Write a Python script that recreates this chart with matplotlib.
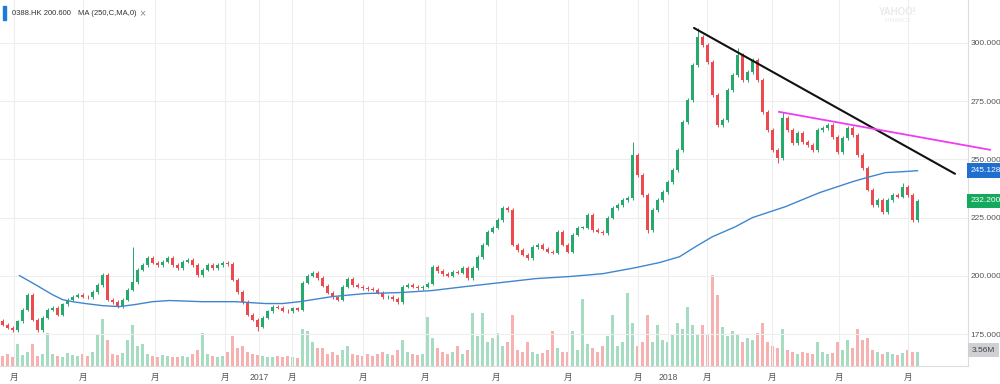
import matplotlib
matplotlib.use('Agg')
import matplotlib.pyplot as plt
import matplotlib.patches as patches
import matplotlib.transforms as mtransforms
import numpy as np

plt.rcParams['font.family'] = ['Liberation Sans', 'Noto Sans CJK SC', 'DejaVu Sans']

# Close prices, one candle per ~3 trading days (May 2016 - Aug 2018)
closes = [
    179.1, 177.8, 176.9, 180.4, 185.5, 191.9, 181.2, 176.9, 182.1, 185.5,
    186.4, 183.4, 187.7, 189.8, 191.1, 191.9, 191.1, 190.7, 193.2, 196.2,
    200.5, 189.8, 188.9, 187.2, 189.8, 194.1, 197.5, 202.7, 204.8, 207.8,
    205.7, 204.8, 206.1, 207.8, 204.8, 203.5, 206.1, 206.9, 204.8, 200.5,
    202.7, 204.8, 203.5, 204.8, 205.7, 205.2, 198.4, 193.2, 188.9, 183.4,
    181.2, 178.2, 182.1, 184.7, 186.8, 186.4, 185.1, 184.7, 186.0, 185.5,
    197.1, 200.1, 201.4, 199.2, 195.8, 192.8, 190.7, 189.8, 195.4, 198.8,
    196.2, 195.4, 194.9, 194.5, 194.1, 192.8, 190.7, 191.1, 190.2, 188.9,
    195.4, 196.2, 195.4, 194.9, 195.4, 196.7, 203.9, 202.2, 200.9, 200.1,
    201.8, 201.4, 203.5, 199.2, 203.5, 208.2, 213.4, 219.0, 220.7, 224.1,
    229.2, 228.4, 213.4, 211.2, 209.1, 207.8, 212.5, 213.4, 211.7, 210.4,
    210.0, 219.0, 213.4, 210.4, 217.7, 220.7, 220.7, 226.2, 219.8, 219.0,
    218.5, 225.0, 229.2, 230.5, 232.7, 233.5, 252.0, 243.4, 234.8, 219.8,
    228.4, 232.7, 236.1, 240.4, 245.5, 254.1, 266.1, 275.6, 290.6, 302.6,
    299.1, 291.9, 277.7, 264.8, 267.0, 279.8, 286.3, 294.9, 284.1, 287.6,
    292.7, 284.1, 270.4, 262.7, 254.1, 250.7, 267.8, 262.7, 257.1, 261.4,
    257.5, 256.3, 254.1, 262.7, 263.6, 264.8, 259.7, 253.3, 259.3, 263.6,
    260.5, 252.0, 246.4, 237.0, 230.5, 232.7, 227.5, 232.7, 234.8, 234.0,
    238.3, 234.8, 224.1, 232.2,
]
first_open = 180.5

# Volume in millions
volumes = [
    2.5, 3.0, 2.2, 5.5, 2.8, 3.5, 5.5, 2.5, 3.0, 8.5,
    3.0, 2.6, 2.4, 3.2, 2.8, 2.5, 3.0, 2.6, 3.5, 8.0,
    12.0, 6.5, 3.0, 2.8, 3.2, 6.5, 10.5, 5.0, 5.5, 3.0,
    2.6, 2.2, 2.8, 2.5, 2.4, 2.2, 2.6, 2.4, 3.0, 4.0,
    8.5, 3.0, 2.5, 2.4, 2.6, 3.5, 7.5, 4.5, 5.0, 3.5,
    3.0, 2.8, 2.5, 2.2, 2.4, 2.6, 2.2, 2.5, 2.3, 2.0,
    9.5, 9.0, 6.0, 4.5, 4.5, 3.0, 3.5, 2.8, 4.0, 5.0,
    3.0, 2.8, 2.6, 3.0, 2.5, 3.0, 3.5, 3.0, 2.8, 4.0,
    6.5, 3.5, 3.0, 2.8, 3.0, 12.5, 7.0, 4.5, 3.5, 3.0,
    3.5, 5.0, 3.0, 4.0, 13.5, 7.5, 13.5, 6.0, 7.0, 8.5,
    5.0, 6.0, 13.0, 4.0, 3.5, 6.0, 3.5, 3.0, 3.2, 4.0,
    9.0, 4.5, 3.5, 3.5, 9.0, 4.0, 17.0, 5.5, 4.5, 3.5,
    5.0, 7.5, 13.0, 5.0, 6.0, 18.5, 11.0, 5.0, 6.0, 13.0,
    6.0, 10.5, 6.5, 6.0, 8.0, 11.0, 9.5, 15.0, 10.5, 8.0,
    10.5, 8.0, 23.0, 18.0, 10.0, 7.5, 9.0, 8.0, 6.0, 7.0,
    6.5, 8.5, 11.0, 6.0, 5.0, 4.5, 9.5, 4.0, 3.5, 3.0,
    3.5, 3.2, 3.0, 6.0, 3.5, 3.0, 3.2, 6.0, 4.0, 6.5,
    4.5, 9.5, 6.5, 7.0, 4.0, 3.5, 3.0, 3.5, 3.0, 2.8,
    3.2, 4.0, 3.5, 3.56,
]

# Notable wick extremes (candle index -> price)
spike_highs = {26: 212.5, 126: 257.5, 139: 306.5, 147: 298.0, 156: 270.5, 180: 240.0}
spike_lows = {129: 218.5, 155: 248.5, 182: 223.0, 51: 176.5}

# 250-day moving average (candle index, value)
ma_idx = [3.4, 6.6, 10, 12, 14, 16.6, 20, 23.4, 26.6, 30, 33.4, 40, 46.6, 52.6,
          56, 59.4, 66, 72.6, 79.4, 86, 92.6, 98, 106.6, 113.4, 120, 126.6,
          131.4, 135.4, 138.6, 142, 146.6, 150, 156.6, 163.4, 170, 173.4,
          176.6, 180, 183]
ma_vals = [200.1, 196.2, 191.9, 189.8, 188.9, 188.1, 187.2, 186.8, 187.7, 188.9,
           189.4, 188.9, 188.9, 188.1, 188.1, 188.9, 191.1, 192.4, 192.8, 193.7,
           195.4, 196.7, 198.8, 199.7, 200.9, 203.5, 205.7, 208.2, 212.5, 216.8,
           221.1, 225.0, 229.7, 235.7, 240.4, 242.5, 244.3, 244.7, 245.128]

# Hand-drawn trend lines (candle index, price)
black_line_x = [138.3, 190.5]
black_line_y = [306.4, 243.8]
pink_line_x = [155.3, 197.5]
pink_line_y = [270.4, 254.1]

tick_idx = [2.3, 16.1, 30.5, 44.5, 51.3, 57.9, 72.1, 84.5, 98.7, 113.1,
            127.1, 133.1, 140.9, 153.9, 167.3, 181.1]
tick_labels = ['月', '月', '月', '月', '2017', '月', '月', '月', '月', '月',
               '月', '2018', '月', '月', '月', '月']
price_ticks = [175, 200, 225, 250, 275, 300]

ticker = '0388.HK'
header_price = '200.600'
ma_label = 'MA (250,C,MA,0)'
last_ma = 245.128
last_close = 232.2
last_vol = 3.56

green = '#26a96c'
red = '#ec4a4f'

fig = plt.figure(figsize=(10, 3.84), dpi=100)
ax = fig.add_axes([0.0, 0.0469, 0.968, 0.9531])
vax = ax.twinx()
ax.set_zorder(2)
ax.patch.set_visible(False)
vax.set_zorder(1)

n = len(closes)
xs = np.arange(n)
opens = np.array([first_open] + closes[:-1])
cl = np.array(closes)
up = cl >= opens
highs = np.maximum(opens, cl) + 0.8
lows = np.minimum(opens, cl) - 0.8
for k, v in spike_highs.items():
    highs[k] = v
for k, v in spike_lows.items():
    lows[k] = v
cols = np.where(up, green, red)

# volume
vcols = np.where(up, '#a6dcc2', '#f6b1b1')
vax.bar(xs, volumes, width=0.5, color=vcols, linewidth=0)
vax.set_ylim(0, 93)
vax.axis('off')

# candles
ax.vlines(xs, lows, highs, colors=cols, linewidth=0.7, zorder=3)
body_h = np.maximum(np.abs(cl - opens), 0.3)
ax.bar(xs, body_h, bottom=np.minimum(opens, cl), width=0.42, color=cols,
       linewidth=0, zorder=4)

# moving average
ax.plot(ma_idx, ma_vals, color='#3f86cf', linewidth=1.0, zorder=5)

# trend lines
ax.plot(black_line_x, black_line_y, color='#111111', linewidth=1.5, zorder=6,
        solid_capstyle='round')
ax.plot(pink_line_x, pink_line_y, color='#f03cf0', linewidth=1.3, zorder=6,
        clip_on=False)

ax.set_xlim(-0.5, 193.1)
ax.set_ylim(161.3, 318.4)

ax.set_xticks(tick_idx)
ax.set_xticklabels(tick_labels, fontsize=6.2, color='#555555')
ax.yaxis.tick_right()
ax.set_yticks(price_ticks)
ax.set_yticklabels([f'{v:.3f}' for v in price_ticks], fontsize=6, color='#555555')
ax.tick_params(axis='both', length=0)
ax.tick_params(axis='x', pad=5)
ax.tick_params(axis='y', pad=2)
ax.grid(True, color='#eeeeee', linewidth=0.8)
ax.set_axisbelow(True)
for s in ['top', 'left']:
    ax.spines[s].set_visible(False)
for s in ['right', 'bottom']:
    ax.spines[s].set_color('#dddddd')
    ax.spines[s].set_linewidth(0.8)

# last value badges on the price scale
trans = mtransforms.blended_transform_factory(ax.transAxes, ax.transData)
ax.text(1.003, last_ma, f'{last_ma:.3f}', transform=trans, fontsize=6,
        color='white', va='center', ha='left', clip_on=False,
        bbox=dict(boxstyle='square,pad=0.45', fc='#1f6fd0', ec='none'))
ax.text(1.003, last_close, f'{last_close:.3f}', transform=trans, fontsize=6,
        color='white', va='center', ha='left', clip_on=False,
        bbox=dict(boxstyle='square,pad=0.45', fc='#14a95c', ec='none'))
vtrans = mtransforms.blended_transform_factory(ax.transAxes, vax.transData)
ax.text(1.004, last_vol + 0.5, f'{last_vol:.2f}M', transform=vtrans, fontsize=6,
        color='#444444', va='center', ha='left', clip_on=False,
        bbox=dict(boxstyle='square,pad=0.45', fc='#cfd0d4', ec='none'))

# header
fig.patches.append(patches.Rectangle((0.003, 1 - 20 / 384), 0.003, 14 / 384,
                                     transform=fig.transFigure, color='#1d7bd8'))
fig.text(0.012, 1 - 13.5 / 384, f'{ticker} {header_price}', fontsize=5.5,
         color='#333333', va='center')
fig.text(0.078, 1 - 13.5 / 384, ma_label, fontsize=5.5, color='#333333', va='center')
fig.text(0.139, 1 - 13.5 / 384, '×', fontsize=7.5, color='#888888', va='center')

# watermark
fig.text(0.898, 1 - 12 / 384, 'YAHOO!', fontsize=7, color='#eaeaea',
         ha='center', va='center', fontweight='bold')
fig.text(0.898, 1 - 20 / 384, 'FINANCE', fontsize=4.5, color='#eaeaea',
         ha='center', va='center')

fig.savefig('out.png', dpi=100, facecolor='white')
